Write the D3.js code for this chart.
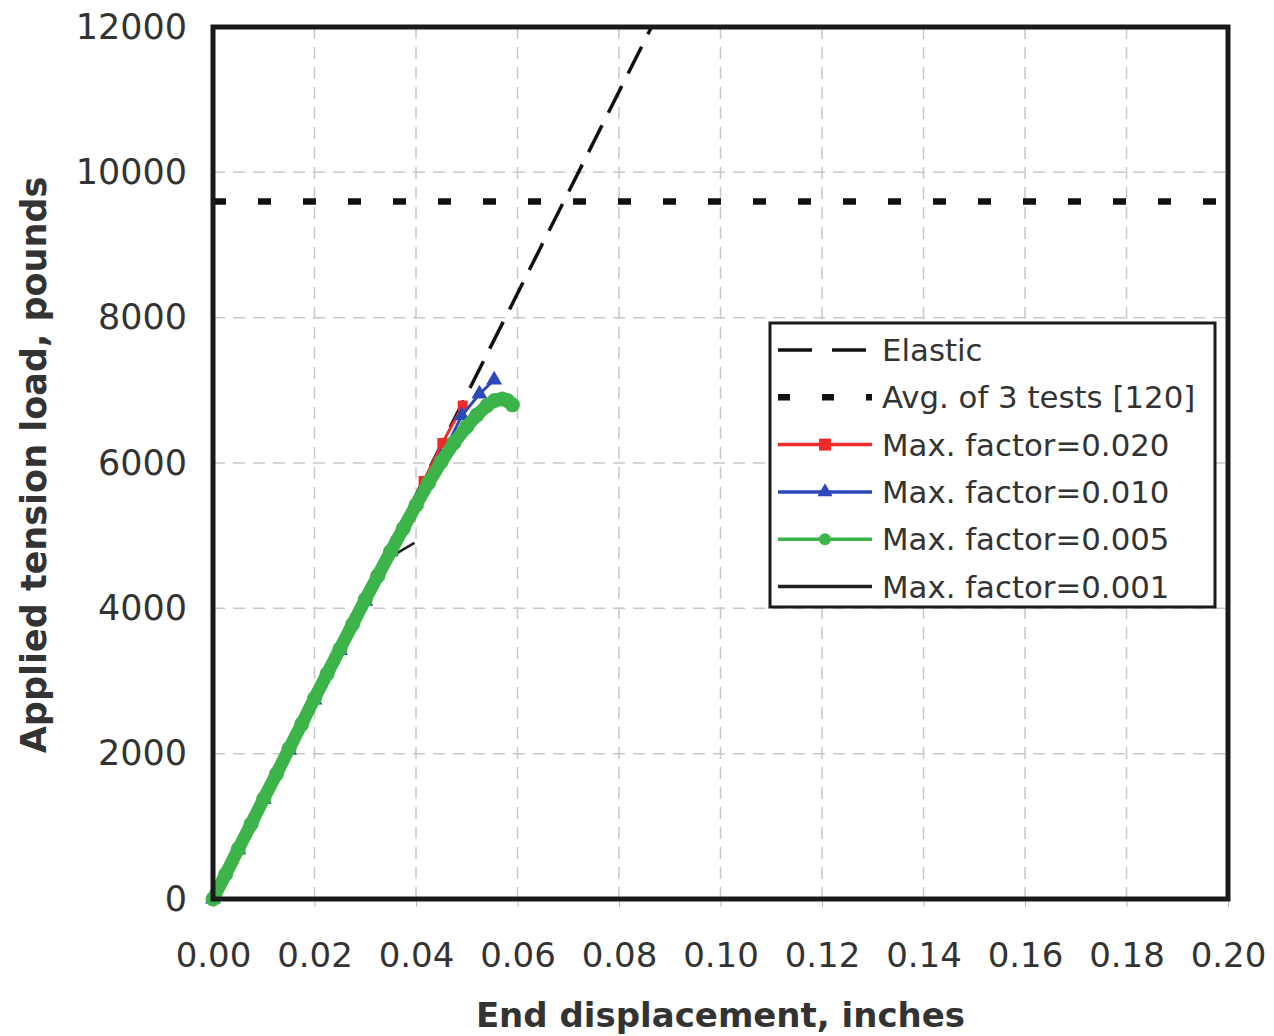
<!DOCTYPE html>
<html lang="en">
<head>
<meta charset="utf-8">
<title>Tension load vs displacement</title>
<script src="https://d3js.org/d3.v7.min.js"></script>
<style>
  body { margin: 0; background: #fff; }
  text { font-family: "DejaVu Sans", Verdana, sans-serif; fill: #333; }
</style>
</head>
<body>
<div class="chart"></div>
<script>
// values
const xTicks = [0, 0.02, 0.04, 0.06, 0.08, 0.10, 0.12, 0.14, 0.16, 0.18, 0.20];
const yTicks = [0, 2000, 4000, 6000, 8000, 10000, 12000];

const elastic = [[0, 0], [0.0864, 12000]];
const avgTests = [[0, 9600], [0.20, 9600]];

const f020 = [[0, 0], [0.004, 550], [0.008, 1100], [0.012, 1650], [0.016, 2200], [0.020, 2750],
  [0.024, 3300], [0.028, 3850], [0.032, 4400], [0.036, 4920], [0.0389, 5256], [0.0415, 5752],
  [0.0452, 6275], [0.0492, 6790]];
const f010 = [[0, 0], [0.005, 680], [0.010, 1370], [0.015, 2050], [0.020, 2740], [0.025, 3420],
  [0.030, 4100], [0.035, 4780], [0.040, 5450], [0.045, 6080], [0.049, 6650], [0.0525, 6950],
  [0.0554, 7142]];
const f005 = [[0, 0], [0.0025, 340], [0.005, 690], [0.0075, 1030], [0.01, 1380], [0.0125, 1720],
  [0.015, 2070], [0.0175, 2410], [0.02, 2760], [0.0225, 3100], [0.025, 3440], [0.0275, 3780],
  [0.03, 4120], [0.0325, 4450], [0.035, 4780], [0.0375, 5100], [0.04, 5420], [0.0425, 5730],
  [0.045, 6020], [0.0475, 6280], [0.05, 6500], [0.052, 6660], [0.054, 6790], [0.0555, 6860],
  [0.057, 6880], [0.058, 6860], [0.059, 6800]];
const f001 = [[0, 0], [0.01, 1380], [0.02, 2760], [0.03, 4120], [0.033, 4500], [0.0342, 4665],
  [0.037, 4790], [0.0397, 4900]];

const legendLabels = ["Elastic", "Avg. of 3 tests [120]", "Max. factor=0.020",
  "Max. factor=0.010", "Max. factor=0.005", "Max. factor=0.001"];

const width = 1274, height = 1036;
const margin = {top: 27, right: 46, bottom: 137, left: 213};

const svg = d3.select('.chart').append('svg')
  .attr('width', width).attr('height', height);

const x = d3.scaleLinear().domain([0, 0.2]).range([margin.left, width - margin.right]);
const y = d3.scaleLinear().domain([0, 12000]).range([height - margin.bottom, margin.top]);

// grid
svg.append('g').selectAll('line.gx')
  .data(xTicks.slice(1, -1)).enter().append('line')
  .attr('x1', d => x(d)).attr('x2', d => x(d))
  .attr('y1', y(0)).attr('y2', y(12000))
  .attr('stroke', '#c8c8c8').attr('stroke-width', 1.5).attr('stroke-dasharray', '12,8');
svg.append('g').selectAll('line.gy')
  .data(yTicks.slice(1, -1)).enter().append('line')
  .attr('x1', x(0)).attr('x2', x(0.2))
  .attr('y1', d => y(d)).attr('y2', d => y(d))
  .attr('stroke', '#c8c8c8').attr('stroke-width', 1.5).attr('stroke-dasharray', '12,8');

// axes (labels only, frame drawn separately)
const xAxis = svg.append('g')
  .attr('transform', `translate(0,${y(0)})`)
  .call(d3.axisBottom(x).tickValues(xTicks).tickFormat(d3.format('.2f')).tickSize(8).tickPadding(36));
const yAxis = svg.append('g')
  .attr('transform', `translate(${x(0)},0)`)
  .call(d3.axisLeft(y).tickValues(yTicks).tickFormat(d3.format('d')).tickSize(0).tickPadding(26));
[xAxis, yAxis].forEach(a => {
  a.select('.domain').remove();
  a.selectAll('text').attr('font-size', 34).attr('fill', '#333')
    .attr('font-family', '"DejaVu Sans", Verdana, sans-serif');
});
yAxis.selectAll('text').attr('font-size', 35);
xAxis.selectAll('line').attr('stroke', '#bbb');

const line = d3.line().x(d => x(d[0])).y(d => y(d[1]));

const plot = svg.append('g');
plot.append('path').datum(elastic).attr('d', line)
  .attr('fill', 'none').attr('stroke', '#111').attr('stroke-width', 3.5)
  .attr('stroke-dasharray', '30,14');
plot.append('path').datum(avgTests).attr('d', line)
  .attr('fill', 'none').attr('stroke', '#111').attr('stroke-width', 6.5)
  .attr('stroke-dasharray', '13,32');

// 0.001
plot.append('path').datum(f001).attr('d', line)
  .attr('fill', 'none').attr('stroke', '#222').attr('stroke-width', 2.5);

// 0.020
plot.append('path').datum(f020).attr('d', line)
  .attr('fill', 'none').attr('stroke', '#ee2a2a').attr('stroke-width', 3);
plot.selectAll('rect.r').data(f020).enter().append('rect')
  .attr('x', d => x(d[0]) - 5).attr('y', d => y(d[1]) - 5)
  .attr('width', 10).attr('height', 10).attr('fill', '#ee2a2a');

// 0.010
plot.append('path').datum(f010).attr('d', line)
  .attr('fill', 'none').attr('stroke', '#2b49b8').attr('stroke-width', 3);
plot.selectAll('path.t').data(f010).enter().append('path')
  .attr('d', d3.symbol(d3.symbolTriangle, 110))
  .attr('transform', d => `translate(${x(d[0])},${y(d[1])})`)
  .attr('fill', '#2b49b8');

// 0.005
plot.append('path').datum(f005).attr('d', line)
  .attr('fill', 'none').attr('stroke', '#3cb44a').attr('stroke-width', 13)
  .attr('stroke-linecap', 'round').attr('stroke-linejoin', 'round');
plot.selectAll('circle.g').data(f005).enter().append('circle')
  .attr('cx', d => x(d[0])).attr('cy', d => y(d[1])).attr('r', 7.5)
  .attr('fill', '#3cb44a');

// frame
svg.append('rect')
  .attr('x', x(0)).attr('y', y(12000))
  .attr('width', x(0.2) - x(0)).attr('height', y(0) - y(12000))
  .attr('fill', 'none').attr('stroke', '#1a1a1a').attr('stroke-width', 5);

// axis titles
svg.append('text')
  .attr('x', (x(0) + x(0.2)) / 2).attr('y', 1027)
  .attr('text-anchor', 'middle').attr('font-size', 34).attr('font-weight', 'bold')
  .attr('fill', '#222').text('End displacement, inches');
svg.append('text')
  .attr('transform', `translate(46,${(y(0) + y(12000)) / 2 + 2}) rotate(-90)`)
  .attr('text-anchor', 'middle').attr('font-size', 35).attr('font-weight', 'bold')
  .attr('fill', '#222').text('Applied tension load, pounds');

// legend
const lg = svg.append('g').attr('transform', 'translate(770,323)');
lg.append('rect').attr('width', 445).attr('height', 284)
  .attr('fill', '#fff').attr('stroke', '#1a1a1a').attr('stroke-width', 3);
const rowY = i => 27 + i * 47.3;
const sx0 = 8, sx1 = 102;

lg.append('line').attr('x1', sx0).attr('x2', sx1).attr('y1', rowY(0)).attr('y2', rowY(0))
  .attr('stroke', '#111').attr('stroke-width', 3.5).attr('stroke-dasharray', '34,20');
lg.append('line').attr('x1', sx0).attr('x2', sx1).attr('y1', rowY(1)).attr('y2', rowY(1))
  .attr('stroke', '#111').attr('stroke-width', 6.5).attr('stroke-dasharray', '12,32');

const seriesLegend = [
  {c: '#ee2a2a', m: 'sq'}, {c: '#2b49b8', m: 'tri'}, {c: '#3cb44a', m: 'ci'}, {c: '#222', m: null}
];
seriesLegend.forEach((s, k) => {
  const yy = rowY(k + 2), mx = (sx0 + sx1) / 2;
  lg.append('line').attr('x1', sx0).attr('x2', sx1).attr('y1', yy).attr('y2', yy)
    .attr('stroke', s.c).attr('stroke-width', 3.5);
  if (s.m === 'sq') lg.append('rect').attr('x', mx - 6).attr('y', yy - 6).attr('width', 12).attr('height', 12).attr('fill', s.c);
  if (s.m === 'tri') lg.append('path').attr('d', d3.symbol(d3.symbolTriangle, 100))
    .attr('transform', `translate(${mx},${yy})`).attr('fill', s.c);
  if (s.m === 'ci') lg.append('circle').attr('cx', mx).attr('cy', yy).attr('r', 6).attr('fill', s.c);
});

lg.selectAll('text.lab').data(legendLabels).enter().append('text')
  .attr('x', 112).attr('y', (d, i) => rowY(i) + 11)
  .attr('font-size', 30.8).attr('fill', '#333').text(d => d);
</script>
</body>
</html>
